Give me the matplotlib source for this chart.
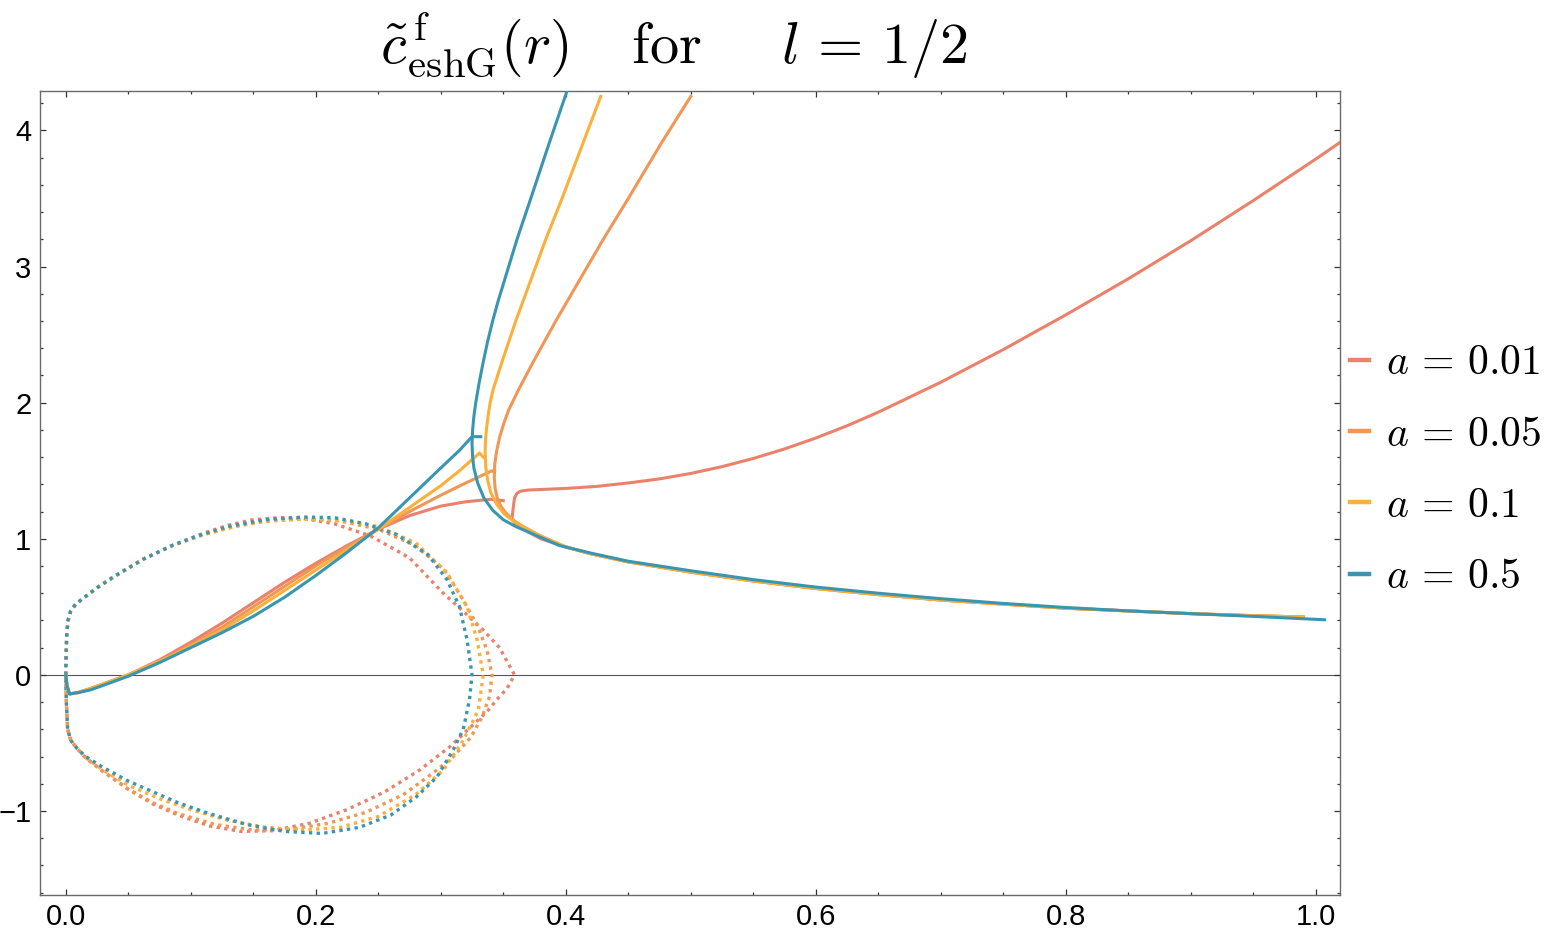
import matplotlib
matplotlib.use('Agg')
import matplotlib.pyplot as plt
from matplotlib.lines import Line2D
from matplotlib.ticker import MultipleLocator

plt.rcParams['mathtext.fontset'] = 'cm'
plt.rcParams['font.family'] = ['Liberation Sans', 'DejaVu Sans']

labels = [r'$a\,=\,0.01$', r'$a\,=\,0.05$', r'$a\,=\,0.1$', r'$a\,=\,0.5$']
colors = ['#eb806b', '#f09656', '#fbb03b', '#3996b1']

# solid branch starting at the origin
rise_x = [
    [0.0, 0.001, 0.003, 0.01, 0.02, 0.035, 0.05, 0.075, 0.1, 0.125, 0.15, 0.175, 0.2, 0.225, 0.25, 0.275, 0.3, 0.32, 0.34, 0.35],
    [0.0, 0.001, 0.003, 0.01, 0.02, 0.035, 0.05, 0.075, 0.1, 0.125, 0.15, 0.175, 0.2, 0.225, 0.25, 0.275, 0.3, 0.32, 0.341, 0.343],
    [0.0, 0.001, 0.003, 0.01, 0.02, 0.035, 0.05, 0.075, 0.1, 0.125, 0.15, 0.175, 0.2, 0.225, 0.25, 0.275, 0.3, 0.315, 0.331, 0.334],
    [0.0, 0.001, 0.003, 0.01, 0.02, 0.035, 0.05, 0.075, 0.1, 0.125, 0.15, 0.175, 0.2, 0.225, 0.25, 0.275, 0.3, 0.315, 0.325, 0.332],
]
rise_y = [
    [0.0, -0.08, -0.14, -0.13, -0.1, -0.05, 0.0, 0.11, 0.24, 0.38, 0.53, 0.68, 0.82, 0.95, 1.07, 1.17, 1.24, 1.272, 1.29, 1.28],
    [0.0, -0.08, -0.14, -0.13, -0.1, -0.05, 0.0, 0.1, 0.22, 0.35, 0.5, 0.65, 0.8, 0.94, 1.07, 1.2, 1.32, 1.41, 1.5, 1.49],
    [0.0, -0.08, -0.14, -0.13, -0.1, -0.05, 0.0, 0.1, 0.21, 0.33, 0.47, 0.62, 0.77, 0.92, 1.07, 1.23, 1.39, 1.5, 1.63, 1.6],
    [0.0, -0.08, -0.14, -0.13, -0.11, -0.06, -0.01, 0.09, 0.2, 0.31, 0.43, 0.57, 0.73, 0.9, 1.08, 1.3, 1.52, 1.65, 1.75, 1.75],
]

# solid branch: upper arm, turning point, decaying tail
arm_x = [
    [1.02, 1.0, 0.95, 0.9, 0.85, 0.8, 0.75, 0.7, 0.65, 0.625, 0.6, 0.575, 0.55, 0.525, 0.5, 0.475, 0.45, 0.425, 0.4, 0.38, 0.37, 0.364, 0.361, 0.359, 0.358, 0.357,
     0.36, 0.37, 0.38, 0.4, 0.42, 0.45, 0.5, 0.55, 0.6, 0.65, 0.7, 0.75, 0.8, 0.85, 0.9, 0.95, 0.99],
    [0.5, 0.476, 0.45, 0.43, 0.411, 0.392, 0.374, 0.3625, 0.3545, 0.3505, 0.3472, 0.3448, 0.3432, 0.3428, 0.3435, 0.3452, 0.348, 0.352, 0.359, 0.366,
     0.38, 0.4, 0.42, 0.45, 0.5, 0.55, 0.6, 0.65, 0.7, 0.75, 0.8, 0.85, 0.9, 0.95, 0.99],
    [0.428, 0.4135, 0.397, 0.384, 0.372, 0.36, 0.349, 0.342, 0.3395, 0.3378, 0.3365, 0.3358, 0.3355, 0.336, 0.3375, 0.34, 0.345, 0.351, 0.358, 0.365,
     0.38, 0.4, 0.42, 0.45, 0.5, 0.55, 0.6, 0.65, 0.7, 0.75, 0.8, 0.85, 0.9, 0.95, 0.99],
    [0.401, 0.3865, 0.372, 0.361, 0.351, 0.346, 0.3415, 0.3375, 0.334, 0.3308, 0.328, 0.3265, 0.3255, 0.325, 0.3255, 0.3265, 0.3295, 0.3345, 0.3415, 0.35, 0.36,
     0.38, 0.395, 0.42, 0.45, 0.5, 0.55, 0.6, 0.65, 0.7, 0.75, 0.8, 0.85, 0.9, 0.95, 1.007],
]
arm_y = [
    [3.916, 3.79, 3.485, 3.19, 2.91, 2.645, 2.39, 2.15, 1.93, 1.83, 1.74, 1.66, 1.59, 1.53, 1.48, 1.44, 1.41, 1.385, 1.37, 1.362, 1.358, 1.35, 1.335, 1.3, 1.23, 1.15,
     1.105, 1.05, 1.0, 0.94, 0.89, 0.83, 0.755, 0.69, 0.635, 0.59, 0.55, 0.52, 0.49, 0.47, 0.45, 0.435, 0.425],
    [4.25, 3.9, 3.5, 3.2, 2.9, 2.6, 2.3, 2.1, 1.95, 1.85, 1.75, 1.65, 1.55, 1.45, 1.37, 1.3, 1.24, 1.19, 1.13, 1.09,
     1.02, 0.94, 0.89, 0.83, 0.755, 0.69, 0.635, 0.59, 0.55, 0.52, 0.49, 0.47, 0.45, 0.435, 0.425],
    [4.25, 3.9, 3.5, 3.2, 2.9, 2.6, 2.3, 2.1, 2.0, 1.9, 1.8, 1.72, 1.63, 1.53, 1.43, 1.34, 1.25, 1.18, 1.13, 1.09,
     1.02, 0.94, 0.89, 0.83, 0.755, 0.69, 0.635, 0.59, 0.55, 0.52, 0.49, 0.47, 0.45, 0.435, 0.425],
    [4.29, 3.9, 3.5, 3.2, 2.9, 2.75, 2.6, 2.45, 2.3, 2.15, 2.0, 1.9, 1.8, 1.7, 1.6, 1.52, 1.41, 1.3, 1.21, 1.14, 1.09,
     1.01, 0.95, 0.895, 0.835, 0.765, 0.7, 0.645, 0.6, 0.56, 0.525, 0.495, 0.47, 0.45, 0.43, 0.405],
]

# dotted closed loops
loop_x = [
    [0.0, 0.0003, 0.0008, 0.0018, 0.004, 0.008, 0.015, 0.025, 0.04, 0.062, 0.085, 0.11, 0.13, 0.15, 0.17, 0.19, 0.215, 0.244, 0.275, 0.302, 0.32, 0.334, 0.347, 0.359,
     0.353, 0.345, 0.337, 0.322, 0.307, 0.283, 0.255, 0.225, 0.195, 0.165, 0.14, 0.115, 0.09, 0.07, 0.05, 0.03, 0.016, 0.009, 0.004, 0.0015, 0.0005, 0.0],
    [0.0, 0.0003, 0.0008, 0.0018, 0.004, 0.008, 0.015, 0.025, 0.04, 0.062, 0.085, 0.11, 0.135, 0.16, 0.19, 0.22, 0.25, 0.28, 0.303, 0.318, 0.33, 0.337, 0.341,
     0.339, 0.333, 0.324, 0.31, 0.294, 0.27, 0.24, 0.21, 0.18, 0.15, 0.12, 0.09, 0.07, 0.05, 0.03, 0.016, 0.009, 0.004, 0.0015, 0.0005, 0.0],
    [0.0, 0.0003, 0.0008, 0.0018, 0.004, 0.008, 0.015, 0.025, 0.04, 0.062, 0.085, 0.11, 0.135, 0.16, 0.19, 0.22, 0.25, 0.28, 0.305, 0.321, 0.329, 0.334,
     0.33, 0.318, 0.302, 0.28, 0.25, 0.22, 0.19, 0.16, 0.13, 0.1, 0.075, 0.05, 0.03, 0.016, 0.009, 0.004, 0.0015, 0.0005, 0.0],
    [0.0, 0.0003, 0.0008, 0.0018, 0.004, 0.008, 0.015, 0.025, 0.04, 0.062, 0.085, 0.105, 0.13, 0.16, 0.19, 0.215, 0.24, 0.265, 0.29, 0.305, 0.315, 0.321, 0.325,
     0.323, 0.318, 0.31, 0.297, 0.28, 0.26, 0.235, 0.205, 0.175, 0.145, 0.115, 0.09, 0.07, 0.05, 0.03, 0.016, 0.009, 0.004, 0.0015, 0.0005, 0.0],
]
loop_y = [
    [0.0, 0.15, 0.3, 0.4, 0.47, 0.52, 0.57, 0.64, 0.73, 0.85, 0.95, 1.04, 1.1, 1.14, 1.155, 1.15, 1.11, 1.02, 0.86, 0.6, 0.45, 0.33, 0.2, 0.0,
     -0.1, -0.18, -0.27, -0.4, -0.53, -0.7, -0.86, -0.99, -1.09, -1.145, -1.15, -1.11, -1.03, -0.95, -0.84, -0.71, -0.61, -0.54, -0.48, -0.4, -0.2, 0.0],
    [0.0, 0.15, 0.3, 0.4, 0.47, 0.52, 0.57, 0.64, 0.73, 0.85, 0.95, 1.03, 1.09, 1.13, 1.145, 1.13, 1.07, 0.95, 0.77, 0.55, 0.35, 0.18, 0.0,
     -0.16, -0.31, -0.46, -0.6, -0.72, -0.88, -1.01, -1.09, -1.135, -1.14, -1.1, -1.02, -0.94, -0.84, -0.71, -0.61, -0.54, -0.48, -0.4, -0.2, 0.0],
    [0.0, 0.15, 0.3, 0.4, 0.47, 0.52, 0.57, 0.64, 0.73, 0.85, 0.95, 1.03, 1.09, 1.13, 1.145, 1.135, 1.09, 0.97, 0.75, 0.5, 0.26, 0.0,
     -0.26, -0.48, -0.7, -0.88, -1.04, -1.12, -1.14, -1.12, -1.07, -0.99, -0.91, -0.81, -0.7, -0.61, -0.54, -0.48, -0.4, -0.2, 0.0],
    [0.0, 0.15, 0.3, 0.4, 0.47, 0.52, 0.57, 0.64, 0.73, 0.85, 0.95, 1.02, 1.09, 1.14, 1.16, 1.155, 1.11, 1.03, 0.88, 0.7, 0.5, 0.26, 0.0,
     -0.18, -0.4, -0.55, -0.75, -0.9, -1.03, -1.12, -1.165, -1.15, -1.1, -1.02, -0.94, -0.86, -0.78, -0.68, -0.6, -0.54, -0.48, -0.4, -0.2, 0.0],
]

fig = plt.figure(figsize=(15.6, 9.35), dpi=100)
ax = fig.add_axes([0.0254, 0.0431, 0.8336, 0.8596])

ax.axhline(0, color='#555555', lw=0.8, zorder=1)

for i in range(4):
    ax.plot(loop_x[i], loop_y[i], color=colors[i], lw=2.4, ls=(0, (1, 1.3)), zorder=2)
for i in range(4):
    ax.plot(rise_x[i], rise_y[i], color=colors[i], lw=2.2, zorder=3, solid_joinstyle='round')
    ax.plot(arm_x[i], arm_y[i], color=colors[i], lw=2.2, zorder=3, solid_joinstyle='round')

ax.set_xlim(-0.0209, 1.0194)
ax.set_ylim(-1.615, 4.29)
ax.xaxis.set_minor_locator(MultipleLocator(0.05))
ax.yaxis.set_minor_locator(MultipleLocator(0.2))
ax.set_xticks([0.0, 0.2, 0.4, 0.6, 0.8, 1.0])
ax.set_xticklabels(['0.0', '0.2', '0.4', '0.6', '0.8', '1.0'])
ax.set_yticks([-1, 0, 1, 2, 3, 4])
ax.set_yticklabels(['\u22121', '0', '1', '2', '3', '4'])
ax.tick_params(which='both', direction='in', top=True, right=True, color='#333333',
               labelsize=21, width=0.9)
ax.tick_params(which='major', length=4.5, pad=6)
ax.tick_params(which='minor', length=2.5)
for s in ax.spines.values():
    s.set_color('#6a6a6a')
    s.set_linewidth(1.0)

handles = [Line2D([], [], color=c, lw=3.2) for c in colors]
ax.legend(handles, labels, loc='center left', bbox_to_anchor=(1.008, 0.528), frameon=False,
          fontsize=30, handlelength=0.45, handletextpad=0.4, labelspacing=0.75,
          borderpad=0, borderaxespad=0)

fig.text(0.432, 0.952,
         r'$\tilde{c}^{\,\mathrm{f}}_{\mathrm{eshG}}(r)\quad\,\mathrm{for}\quad\;\;l\,=\,1/2$',
         ha='center', va='center', fontsize=42)

fig.savefig('out.png', dpi=100)
